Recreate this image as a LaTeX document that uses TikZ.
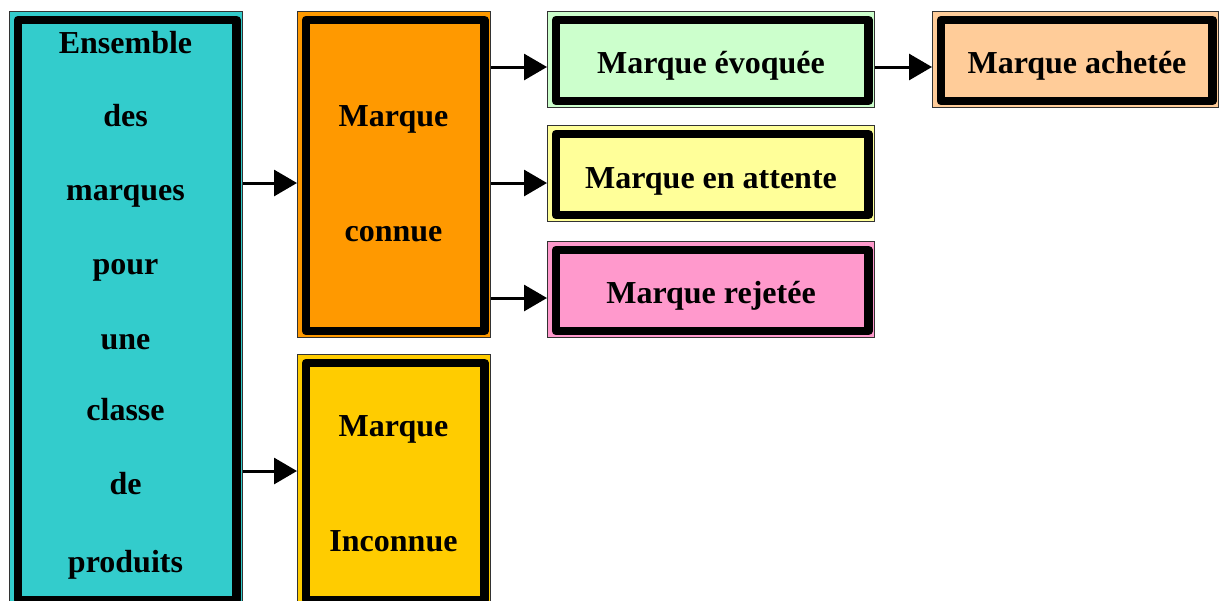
\documentclass[tikz,border=0pt]{standalone}
\usepackage{fontspec}
\setmainfont{Liberation Serif}
\usetikzlibrary{arrows.meta}
\definecolor{cCyan}{HTML}{33CCCC}
\definecolor{cOrange}{HTML}{FF9900}
\definecolor{cGold}{HTML}{FFCC00}
\definecolor{cGreen}{HTML}{CCFFCC}
\definecolor{cPeach}{HTML}{FFCC99}
\definecolor{cYellow}{HTML}{FFFF99}
\definecolor{cPink}{HTML}{FF99CC}
\begin{document}
\begin{tikzpicture}[x=1pt,y=-1pt,
  box/.style={draw=black!80, line width=1pt, inner sep=0pt, anchor=north west,
    path picture={\draw[draw=black, line width=8.5pt, line join=round]
      ([xshift=8.5pt,yshift=-8.5pt]path picture bounding box.north west) rectangle
      ([xshift=-6pt,yshift=6.5pt]path picture bounding box.south east);}},
  txt/.style={anchor=base, font=\fontsize{32}{38}\selectfont\bfseries, inner sep=0pt},
  arr/.style={line width=3pt, -{Triangle[length=23pt,width=26pt]}}]
\useasboundingbox (0,0) rectangle (1225,600);
\clip (0,0) rectangle (1225,600);
% boxes
\node[box, fill=cCyan, minimum width=233pt, minimum height=595pt] (ens) at (9,11) {};
\node[box, fill=cOrange, minimum width=193pt, minimum height=326pt] (connue) at (297,11) {};
\node[box, fill=cGold, minimum width=193pt, minimum height=252pt] (inconnue) at (297,354) {};
\node[box, fill=cGreen, minimum width=327pt, minimum height=96pt] (evoq) at (547,11) {};
\node[box, fill=cPeach, minimum width=286pt, minimum height=96pt] (achat) at (932,11) {};
\node[box, fill=cYellow, minimum width=327pt, minimum height=96pt] (attente) at (547,125) {};
\node[box, fill=cPink, minimum width=327pt, minimum height=96pt] (rejet) at (547,241) {};
% texts
\node[txt] (e1) at (125.5,53) {Ensemble};
\node[txt] (e2) at (125.5,126) {des};
\node[txt] (e3) at (125.5,200) {marques};
\node[txt] (e4) at (125.5,274) {pour};
\node[txt] (e5) at (125.5,349) {une};
\node[txt] (e6) at (125.5,420) {classe};
\node[txt] (e7) at (125.5,494) {de};
\node[txt] (e8) at (125.5,572) {produits};
\node[txt] (c1) at (393.5,126) {Marque};
\node[txt] (c2) at (393.5,241) {connue};
\node[txt] (i1) at (393.5,436) {Marque};
\node[txt] (i2) at (393.5,551) {Inconnue};
\node[txt] (tev) at (711,73) {Marque évoquée};
\node[txt] (tac) at (1077,73) {Marque achetée};
\node[txt] (tat) at (711,188) {Marque en attente};
\node[txt] (tre) at (711,303) {Marque rejetée};
% rows
\coordinate (r1) at (0,67);
\coordinate (r2) at (0,183);
\coordinate (r3) at (0,298);
\coordinate (r4) at (0,471);
% arrows
\draw[arr] (ens.east |- r2) -- (connue.west |- r2);
\draw[arr] (ens.east |- r4) -- (inconnue.west |- r4);
\draw[arr] (connue.east |- r1) -- (evoq.west |- r1);
\draw[arr] (connue.east |- r2) -- (attente.west |- r2);
\draw[arr] (connue.east |- r3) -- (rejet.west |- r3);
\draw[arr] (evoq.east |- r1) -- (achat.west |- r1);
\end{tikzpicture}
\end{document}
